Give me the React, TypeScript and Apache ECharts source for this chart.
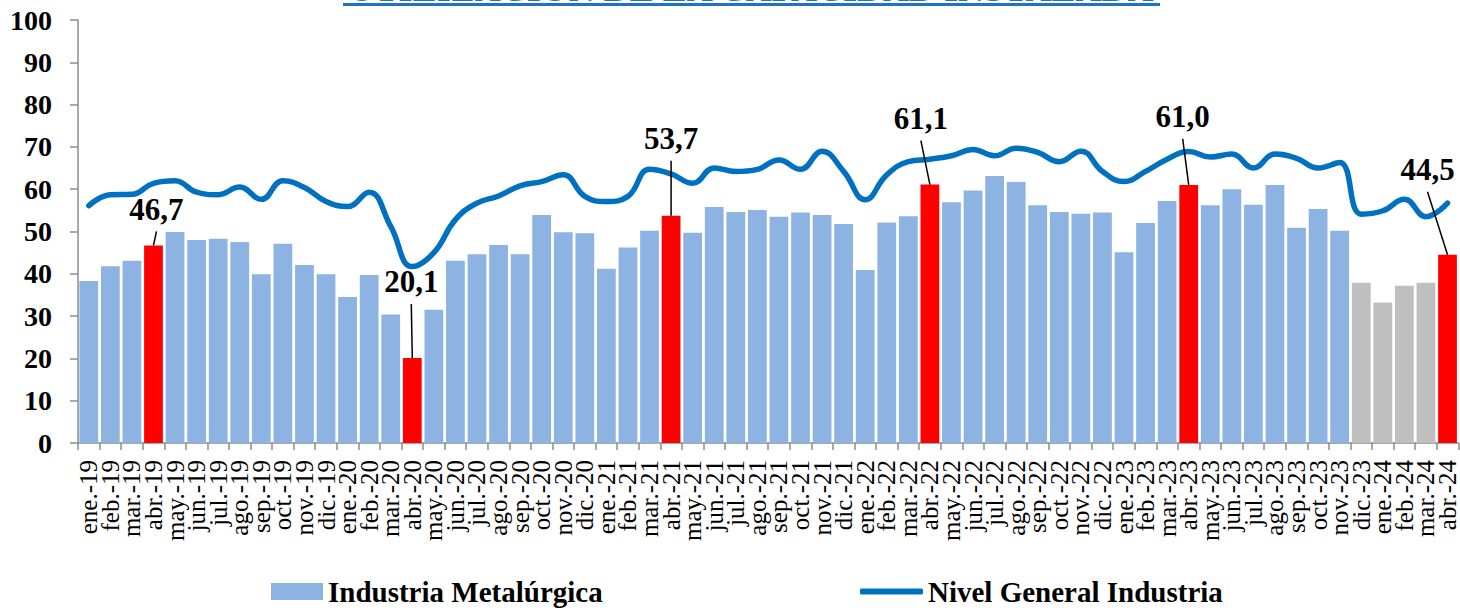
import React, { useEffect, useRef } from "react";
import * as echarts from "echarts";

const categories: string[] = [
  "ene.-19", "feb.-19", "mar.-19", "abr.-19", "may.-19", "jun.-19", "jul.-19", "ago.-19", "sep.-19", "oct.-19", "nov.-19", "dic.-19",
  "ene.-20", "feb.-20", "mar.-20", "abr.-20", "may.-20", "jun.-20", "jul.-20", "ago.-20", "sep.-20", "oct.-20", "nov.-20", "dic.-20",
  "ene.-21", "feb.-21", "mar.-21", "abr.-21", "may.-21", "jun.-21", "jul.-21", "ago.-21", "sep.-21", "oct.-21", "nov.-21", "dic.-21",
  "ene.-22", "feb.-22", "mar.-22", "abr.-22", "may.-22", "jun.-22", "jul.-22", "ago.-22", "sep.-22", "oct.-22", "nov.-22", "dic.-22",
  "ene.-23", "feb.-23", "mar.-23", "abr.-23", "may.-23", "jun.-23", "jul.-23", "ago.-23", "sep.-23", "oct.-23", "nov.-23", "dic.-23",
  "ene.-24", "feb.-24", "mar.-24", "abr.-24",
];

const metalurgica: number[] = [
  38.3, 41.8, 43.1, 46.7, 49.9, 48.0, 48.3, 47.5, 39.9, 47.1, 42.1, 39.9,
  34.5, 39.7, 30.4, 20.1, 31.5, 43.1, 44.6, 46.8, 44.6, 53.9, 49.8, 49.6,
  41.2, 46.2, 50.2, 53.7, 49.7, 55.8, 54.6, 55.1, 53.5, 54.5, 53.9, 51.8,
  40.9, 52.1, 53.6, 61.1, 56.9, 59.7, 63.1, 61.7, 56.2, 54.6, 54.2, 54.5,
  45.1, 52.0, 57.2, 61.0, 56.2, 60.0, 56.3, 61.0, 50.9, 55.3, 50.2, 37.9,
  33.2, 37.2, 37.9, 44.5,
];

const nivelGeneral: number[] = [
  56.1, 58.7, 58.8, 61.4, 62.0, 59.3, 58.7, 60.5, 57.6, 62.0, 60.4, 57.1,
  55.9, 59.3, 51.2, 41.7, 45.0, 52.8, 56.7, 58.4, 60.8, 61.8, 63.4, 58.3,
  57.1, 58.3, 64.7, 63.6, 61.4, 65.0, 64.2, 64.7, 66.9, 64.7, 69.0, 64.2,
  57.5, 63.4, 66.5, 67.1, 67.9, 69.4, 67.9, 69.7, 68.7, 66.5, 69.0, 64.2,
  61.8, 64.2, 67.1, 68.9, 67.6, 68.3, 65.0, 68.3, 67.3, 65.0, 66.3, 54.1,
  54.9, 57.6, 53.5, 56.7,
];

const highlighted: string[] = ["abr.-19", "abr.-20", "abr.-21", "abr.-22", "abr.-23", "abr.-24"];
const provisional: string[] = ["dic.-23", "ene.-24", "feb.-24", "mar.-24"];

const yTicks = { min: 0, max: 100, interval: 10 };

const TITLE = "UTILIZACIÓN DE LA CAPACIDAD INSTALADA";
const BAR_NAME = "Industria Metalúrgica";
const LINE_NAME = "Nivel General Industria";

// label placement (pixels relative to bar top)
const labelShift: Record<string, [number, number]> = {
  "abr.-19": [3, -36],
  "abr.-20": [-1, -76],
  "abr.-21": [0, -77],
  "abr.-22": [-9, -66],
  "abr.-23": [-6, -68],
  "abr.-24": [-20, -85],
};

const SERIF = "'Liberation Serif', 'Times New Roman', serif";

export default function App() {
  const ref = useRef<HTMLDivElement>(null);

  useEffect(() => {
    if (!ref.current) return;
    const chart = echarts.init(ref.current, undefined, { renderer: "svg" });

    const barData = metalurgica.map((v, i) => {
      const c = categories[i];
      let color = "#8DB3E2";
      if (highlighted.includes(c)) color = "#FF0000";
      else if (provisional.includes(c)) color = "#BFBFBF";
      return { value: v, itemStyle: { color } };
    });

    const labelData = highlighted.map((c) => {
      const idx = categories.indexOf(c);
      return [idx, metalurgica[idx]];
    });

    const legendText = { fontFamily: SERIF, fontWeight: "bold", fontSize: 29, color: "#000" };

    const option: any = {
      animation: false,
      backgroundColor: "#ffffff",
      graphic: [
        {
          type: "text",
          x: 751,
          y: 7,
          style: {
            text: TITLE,
            fill: "#1F73C4",
            font: `bold 36px ${SERIF}`,
            textAlign: "center",
            textVerticalAlign: "bottom",
          },
        },
        {
          type: "rect",
          shape: { x: 343, y: 3, width: 817, height: 3 },
          style: { fill: "#1F73C4" },
        },
      ],
      grid: { left: 78, right: 0, top: 20, bottom: 167, containLabel: false },
      legend: [
        {
          data: [{ name: BAR_NAME, icon: "rect" }],
          left: 266,
          top: 572,
          itemWidth: 52,
          itemHeight: 17,
          textStyle: legendText,
        },
        {
          data: [{ name: LINE_NAME, icon: "roundRect" }],
          left: 855,
          top: 572,
          itemWidth: 63,
          itemHeight: 6,
          textStyle: legendText,
        },
      ],
      xAxis: {
        type: "category",
        data: categories,
        boundaryGap: true,
        axisLine: { lineStyle: { color: "#8C8C8C", width: 1.5 } },
        axisTick: { show: true, length: 7, lineStyle: { color: "#8C8C8C", width: 1.5 } },
        axisLabel: {
          rotate: 90,
          interval: 0,
          margin: 17,
          color: "#000",
          fontFamily: SERIF,
          fontSize: 25,
        },
      },
      yAxis: {
        type: "value",
        min: yTicks.min,
        max: yTicks.max,
        interval: yTicks.interval,
        splitLine: { show: false },
        axisLine: { show: true, lineStyle: { color: "#8C8C8C", width: 1.5 } },
        axisTick: { show: true, length: 8, lineStyle: { color: "#8C8C8C", width: 1.5 } },
        axisLabel: {
          margin: 26,
          color: "#000",
          fontFamily: SERIF,
          fontWeight: "bold",
          fontSize: 28,
        },
      },
      series: [
        {
          name: BAR_NAME,
          type: "bar",
          data: barData,
          barCategoryGap: "13%",
          itemStyle: { color: "#8DB3E2" },
          z: 2,
        },
        {
          name: LINE_NAME,
          type: "line",
          data: nivelGeneral,
          smooth: 0.45,
          symbol: "none",
          lineStyle: { color: "#0070C0", width: 5.5, cap: "round" },
          itemStyle: { color: "#0070C0" },
          z: 3,
        },
        {
          type: "custom",
          name: "labels",
          data: labelData,
          z: 10,
          silent: true,
          clip: false,
          renderItem: (params: any, api: any) => {
            const idx = api.value(0);
            const val = api.value(1);
            const p = api.coord([idx, val]);
            const shift = labelShift[categories[idx]] || [0, -40];
            const lx = p[0] + shift[0];
            const ly = p[1] + shift[1];
            return {
              type: "group",
              children: [
                {
                  type: "line",
                  shape: { x1: lx, y1: ly + 22, x2: p[0], y2: p[1] },
                  style: { stroke: "#000", lineWidth: 1.5 },
                },
                {
                  type: "text",
                  x: lx,
                  y: ly,
                  style: {
                    text: val.toFixed(1).replace(".", ","),
                    textAlign: "center",
                    textVerticalAlign: "middle",
                    font: `bold 31px ${SERIF}`,
                    fill: "#000",
                  },
                },
              ],
            };
          },
        },
      ],
    };

    chart.setOption(option);
    return () => chart.dispose();
  }, []);

  return (
    <div
      ref={ref}
      style={{ position: "fixed", left: 0, top: 0, width: 1460, height: 610, background: "#fff" }}
    />
  );
}
